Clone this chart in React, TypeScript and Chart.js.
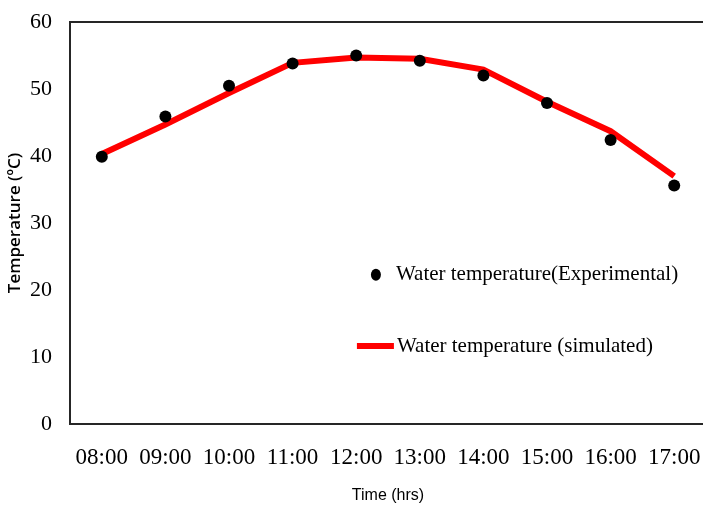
import React, { useEffect, useRef } from "react";
import { Chart, registerables } from "chart.js";

Chart.register(...registerables);

const categories = ["08:00", "09:00", "10:00", "11:00", "12:00", "13:00", "14:00", "15:00", "16:00", "17:00"];
const experimental = [39.9, 45.9, 50.5, 53.8, 55.0, 54.2, 52.0, 47.9, 42.4, 35.6];
const simulated = [40.3, 44.7, 49.4, 53.9, 54.7, 54.5, 52.9, 48.1, 43.7, 37.0];
const yTicks = [0, 10, 20, 30, 40, 50, 60];
const expLabel = "Water temperature(Experimental)";
const simLabel = "Water temperature (simulated)";

const serif = "'Liberation Serif', 'Times New Roman', serif";

const framePlugin = {
  id: "frame",
  afterDraw(chart: any) {
    const { ctx, chartArea } = chart;
    ctx.save();
    ctx.strokeStyle = "#262626";
    ctx.lineWidth = 2;
    ctx.beginPath();
    ctx.moveTo(chartArea.right + 10, chartArea.top);
    ctx.lineTo(chartArea.left, chartArea.top);
    ctx.lineTo(chartArea.left, chartArea.bottom);
    ctx.lineTo(chartArea.right + 10, chartArea.bottom);
    ctx.stroke();
    ctx.restore();
  },
};

const legendPlugin = {
  id: "insideLegend",
  afterDraw(chart: any) {
    const { ctx, chartArea } = chart;
    const w = chartArea.right - chartArea.left;
    const h = chartArea.bottom - chartArea.top;
    const x0 = chartArea.left + w * 0.481;
    const y0 = chartArea.top + h * 0.629;
    const y1 = chartArea.top + h * 0.806;
    ctx.save();
    ctx.fillStyle = "#000";
    ctx.beginPath();
    ctx.ellipse(x0, y0, 5, 6, 0, 0, Math.PI * 2);
    ctx.fill();
    ctx.font = `21px ${serif}`;
    ctx.textBaseline = "middle";
    ctx.textAlign = "left";
    ctx.fillText(chart.data.datasets[0].label, x0 + 20, y0);
    ctx.strokeStyle = "#ff0000";
    ctx.lineWidth = 6;
    ctx.beginPath();
    ctx.moveTo(x0 - 19, y1);
    ctx.lineTo(x0 + 18, y1);
    ctx.stroke();
    ctx.fillStyle = "#000";
    ctx.fillText(chart.data.datasets[1].label, x0 + 21, y1);
    ctx.restore();
  },
};

export default function App() {
  const ref = useRef<HTMLCanvasElement>(null);
  useEffect(() => {
    if (!ref.current) return;
    const chart = new Chart(ref.current, {
      type: "line",
      data: {
        labels: categories,
        datasets: [
          {
            label: expLabel,
            data: experimental,
            showLine: false,
            pointRadius: 6,
            pointBackgroundColor: "#000",
            pointBorderColor: "#000",
            pointBorderWidth: 0,
            order: 0,
          },
          {
            label: simLabel,
            data: simulated,
            borderColor: "#ff0000",
            borderWidth: 6,
            pointRadius: 0,
            tension: 0,
            order: 1,
          },
        ],
      },
      options: {
        responsive: false,
        animation: false,
        layout: { padding: { top: 22, right: 4, left: 0, bottom: 0 } },
        plugins: { legend: { display: false }, tooltip: { enabled: false } },
        scales: {
          x: {
            offset: true,
            grid: { display: false, drawTicks: false },
            border: { display: false },
            ticks: { color: "#000", font: { family: serif, size: 23 }, padding: 20, maxRotation: 0, autoSkip: false },
            title: {
              display: true,
              text: "Time (hrs)",
              color: "#000",
              font: { family: "'Liberation Sans Narrow', 'Liberation Sans', sans-serif", size: 16 },
              padding: { top: 0, bottom: 6 },
            },
            afterFit(scale: any) {
              scale.height = 87;
              scale.paddingLeft = 0;
              scale.paddingRight = 0;
            },
          },
          y: {
            min: 0,
            max: 60,
            grid: { display: false, drawTicks: false },
            border: { display: false },
            afterBuildTicks(scale: any) {
              scale.ticks = yTicks.map((v) => ({ value: v }));
            },
            ticks: { color: "#000", font: { family: serif, size: 22 }, padding: 18 },
            title: {
              display: true,
              text: "Temperature (ºC)",
              color: "#000",
              font: { family: "'Open Sans', sans-serif", size: 17, weight: "600" },
              padding: { top: 5, bottom: 0 },
            },
            afterFit(scale: any) {
              scale.width = 70;
              scale.paddingTop = 0;
              scale.paddingBottom = 0;
            },
          },
        },
      },
      plugins: [framePlugin, legendPlugin],
    });
    return () => chart.destroy();
  }, []);
  return (
    <div style={{ position: "fixed", left: 0, top: 0, width: 703, height: 511, overflow: "hidden", background: "#fff" }}>
      <canvas ref={ref} width={712} height={511} style={{ display: "block" }} />
    </div>
  );
}
